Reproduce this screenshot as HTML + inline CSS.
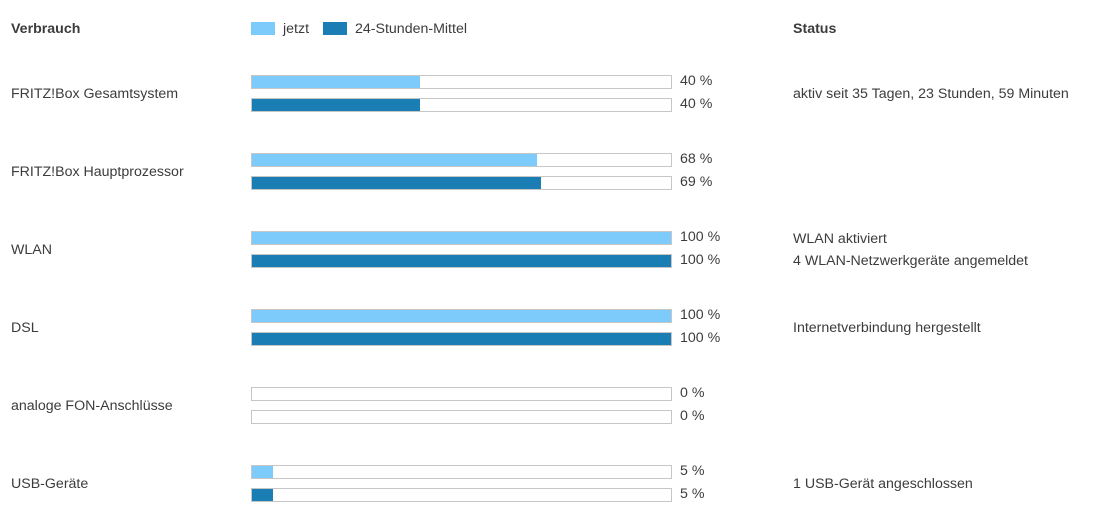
<!DOCTYPE html>
<html><head><meta charset="utf-8"><style>
body{margin:0;width:1099px;height:510px;background:#fff;font-family:"Liberation Sans",sans-serif;font-size:14.2px;color:#3c3c3c;position:relative;overflow:hidden}
.a{position:absolute;white-space:nowrap}
.bar{position:absolute;left:251px;width:419px;height:12px;border:1px solid #c6c6c6;background:#fff}
.fill{height:100%}
.light{background:#7dcbfa}.dark{background:#1a7db4}
</style></head><body>
<div class="a" style="left:11px;top:21px;font-weight:bold">Verbrauch</div>
<div class="a" style="left:793px;top:21px;font-weight:bold">Status</div>
<div class="a light" style="left:251px;top:22px;width:24px;height:13px"></div>
<div class="a" style="left:283px;top:21px">jetzt</div>
<div class="a dark" style="left:323px;top:22px;width:24px;height:13px"></div>
<div class="a" style="left:355px;top:21px">24-Stunden-Mittel</div>
<div id="chart"></div>
<script>
const categories=["FRITZ!Box Gesamtsystem","FRITZ!Box Hauptprozessor","WLAN","DSL","analoge FON-Anschlüsse","USB-Geräte"];
const nowValues=[40,68,100,100,0,5];
const avgValues=[40,69,100,100,0,5];
const statusText=[["aktiv seit 35 Tagen, 23 Stunden, 59 Minuten"],[],["WLAN aktiviert","4 WLAN-Netzwerkgeräte angemeldet"],["Internetverbindung hergestellt"],[],["1 USB-Gerät angeschlossen"]];
const chart=document.getElementById('chart');
function rowY(i){return 75+i*78;}
function scaleX(v){return v/100*419;}
function mk(cls,style,text){const d=document.createElement('div');d.className=cls;d.style.cssText=style;if(text!==undefined)d.textContent=text;chart.appendChild(d);return d;}
categories.forEach((c,i)=>{
  const y=rowY(i);
  const l=mk('a','left:11px;top:'+(y+11)+'px',c);
  
  
  [[nowValues[i],'light',0],[avgValues[i],'dark',23]].forEach(([v,cl,off])=>{
    const b=mk('bar','top:'+(y+off)+'px');
    
    
    const f=document.createElement('div');f.className='fill '+cl;f.style.width=scaleX(v)+'px';
    
    
    b.appendChild(f);
    const t=mk('a','left:680px;top:'+(y+off-2)+'px',v+' %');
    
    
  });
  const st=statusText[i];
  st.forEach((s,k)=>{
    const top=st.length===2?y+k*22:y+11;
    const e=mk('a','left:793px;top:'+top+'px',s);
    
    
  });
});
</script>
</body></html>
